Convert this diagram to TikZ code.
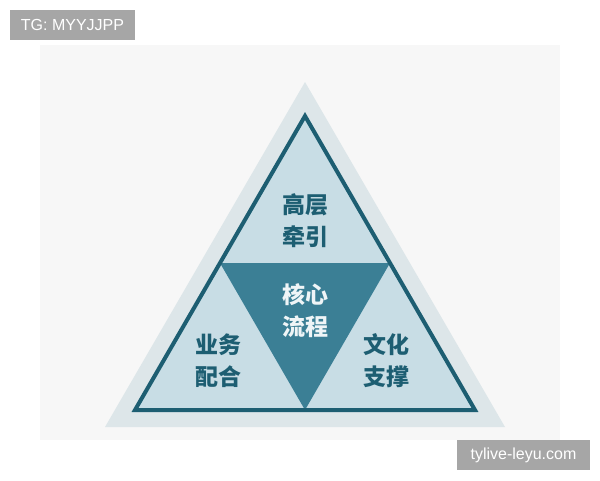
\documentclass[tikz,border=0pt]{standalone}
\usepackage{fontspec}
\setmainfont{Liberation Sans}
\newfontfamily\cjk{Noto Sans CJK SC}
\definecolor{tealdark}{HTML}{1D5E72}
\definecolor{coreteal}{HTML}{3B7F95}
\definecolor{innerblue}{HTML}{C8DDE5}
\definecolor{outerblue}{HTML}{DDE6E9}
\definecolor{tagray}{HTML}{A6A6A6}
\tikzset{
  word/.style={font=\cjk\bfseries\fontsize{23}{32}\selectfont, text=tealdark, align=center, inner sep=0pt},
  tag/.style={fill=tagray, text=white, font=\fontsize{16}{18}\selectfont, inner sep=0pt, anchor=center}
}
\begin{document}
\begin{tikzpicture}[x=1pt,y=-1pt]
  \useasboundingbox (0,0) rectangle (600,480);
  % faint backdrop
  \fill[black!3] (40,45) rectangle (560,440);
  % outer triangle
  \fill[outerblue] (305,82)--(105,427)--(505,427)--cycle;
  % inner triangle and the core
  \fill[innerblue] (305,116)--(135,410)--(475,410)--cycle;
  \fill[coreteal] (220,263)--(390,263)--(305,410)--cycle;
  \draw[tealdark, line width=4pt, line join=miter] (305,116)--(135,410)--(475,410)--cycle;
  % texts
  \path (305,221) node[word] (top) {高层\\牵引};
  \path (305,311) node[word, text=white!92!coreteal] (core) {核心\\流程};
  \path (218,361) node[word] (left) {业务\\配合};
  \path (386,361) node[word] (right) {文化\\支撑};
  % tags
  \fill[tagray] (10,10) rectangle (135,40);
  \path (72.5,25) node[tag] (tg) {TG: MYYJJPP};
  \fill[tagray] (457,440) rectangle (590,470);
  \path (523.5,455) node[tag] (site) {tylive-leyu.com};
\end{tikzpicture}
\end{document}
